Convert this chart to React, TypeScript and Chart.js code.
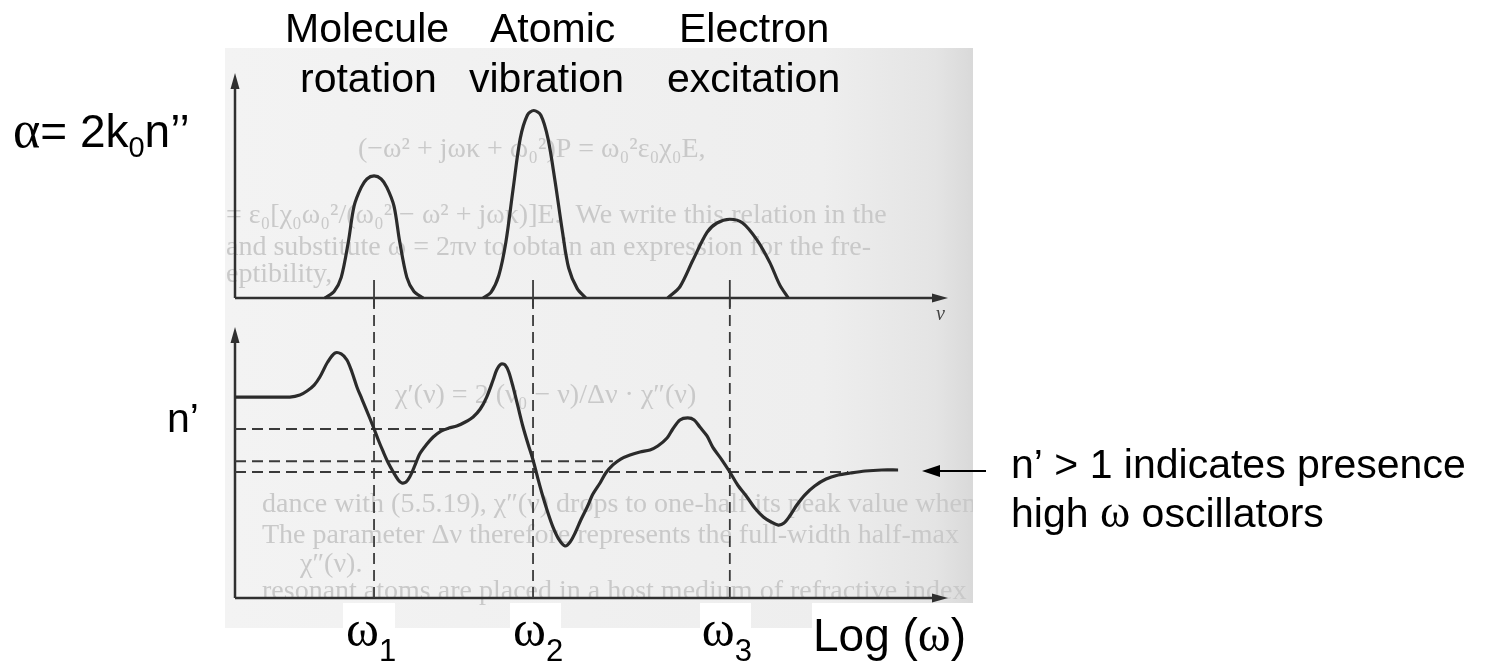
import React, { useEffect, useRef } from "react";
import { Chart, registerables } from "chart.js";

Chart.register(...registerables);

const SANS = '"Liberation Sans", Arial, Helvetica, sans-serif';
const SERIF = '"Liberation Serif", "Times New Roman", Times, serif';

// ---- x axis: log(omega), arbitrary units 0..10 ----
const X_MIN = 0;
const X_MAX = 10;

// resonance frequencies (log ω units)
const omegaPositions = [1.95, 4.18, 6.94];
const omegaSubscripts = ["1", "2", "3"];

// ---- top panel: absorption α = 2k0 n'' (relative units) ----
const ALPHA_MIN = -1.6;
const ALPHA_MAX = 1.2;
const alphaAxisTop = 1.2;
const omegaTickTop = 0.096;

const rotationX = [1.26, 1.39, 1.49, 1.59, 1.67, 1.77, 1.85, 1.95, 2.05, 2.13, 2.23, 2.31, 2.41, 2.51, 2.64];
const rotationAlpha = [0, 0.035, 0.11, 0.3, 0.49, 0.59, 0.635, 0.651, 0.635, 0.59, 0.49, 0.3, 0.11, 0.035, 0];

const vibrationX = [3.48, 3.59, 3.7, 3.8, 3.9, 4.0, 4.1, 4.19, 4.29, 4.39, 4.49, 4.59, 4.68, 4.8, 4.92];
const vibrationAlpha = [0, 0.03, 0.12, 0.3, 0.58, 0.85, 0.975, 1.0, 0.975, 0.85, 0.62, 0.36, 0.16, 0.05, 0];

const excitationX = [6.07, 6.24, 6.42, 6.62, 6.76, 6.94, 7.12, 7.32, 7.5, 7.64, 7.76];
const excitationAlpha = [0, 0.06, 0.2, 0.35, 0.4, 0.42, 0.4, 0.31, 0.19, 0.07, 0];

// ---- bottom panel: refractive index n' ----
const N_MIN = 0;
const N_MAX = 4.1667;
const nAxisTop = 2.15;
const omegaLineTop = 2.381;

const indexX = [
  0.0, 0.38, 0.77, 0.91, 1.01, 1.11, 1.19, 1.3, 1.4, 1.49,
  1.57, 1.64, 1.71, 1.78, 1.85, 1.94, 2.01, 2.08, 2.15, 2.22,
  2.29, 2.34, 2.4, 2.45, 2.52, 2.59, 2.68, 2.78, 2.89, 3.0,
  3.11, 3.23, 3.34, 3.44, 3.53, 3.62, 3.67, 3.73, 3.79, 3.84,
  3.9, 3.97, 4.04, 4.11, 4.18, 4.25, 4.32, 4.39, 4.46, 4.54,
  4.63, 4.7, 4.77, 4.85, 4.94, 5.02, 5.12, 5.2, 5.3, 5.41,
  5.54, 5.68, 5.82, 5.93, 6.06, 6.14, 6.24, 6.35, 6.44, 6.52,
  6.62, 6.7, 6.83, 6.94, 7.05, 7.18, 7.29, 7.41, 7.52, 7.62,
  7.7, 7.78, 7.88, 7.99, 8.13, 8.29, 8.46, 8.63, 8.84, 9.07,
  9.3,
];
const indexN = [
  1.595, 1.595, 1.595, 1.611, 1.643, 1.69, 1.754, 1.873, 1.944, 1.937,
  1.889, 1.794, 1.675, 1.579, 1.484, 1.357, 1.254, 1.159, 1.071, 1.0,
  0.937, 0.913, 0.921, 0.96, 1.048, 1.143, 1.214, 1.278, 1.325, 1.349,
  1.365, 1.397, 1.437, 1.5, 1.595, 1.73, 1.81, 1.857, 1.849, 1.794,
  1.675, 1.516, 1.357, 1.222, 1.095, 0.944, 0.802, 0.675, 0.563, 0.468,
  0.413, 0.444, 0.516, 0.619, 0.722, 0.825, 0.913, 0.992, 1.056, 1.103,
  1.135, 1.159, 1.175, 1.206, 1.27, 1.341, 1.413, 1.429, 1.413, 1.357,
  1.286, 1.198, 1.095, 1.0, 0.897, 0.802, 0.714, 0.643, 0.603, 0.579,
  0.595, 0.651, 0.738, 0.817, 0.889, 0.944, 0.976, 0.992, 1.008, 1.016,
  1.016,
];

// dashed plateau levels of n' and where each dashed line ends
const levelN = [1.341, 1.085, 1.0];
const levelEndX = [3.0, 5.3, 8.6];

// faint scanned textbook lines behind the figure
const scanLines = [
  "(−ω² + jωκ + ω₀²)P = ω₀²ε₀χ₀E,",
  "= ε₀[χ₀ω₀²/(ω₀² − ω² + jωκ)]E.  We write this relation in the",
  "and substitute ω = 2πν to obtain an expression for the fre-",
  "eptibility,",
  "χ′(ν) = 2 (ν₀ − ν)/Δν · χ″(ν)",
  "dance with (5.5.19), χ″(ν) drops to one-half its peak value when",
  "The parameter Δν therefore represents the full-width half-max",
  "χ″(ν).",
  "resonant atoms are placed in a host medium of refractive index",
];

const zip = (xs: number[], ys: number[]) => xs.map((x, i) => ({ x, y: ys[i] }));

function arrowLine(ctx: CanvasRenderingContext2D, x1: number, y1: number, x2: number, y2: number, len = 16, half = 4.5) {
  const ang = Math.atan2(y2 - y1, x2 - x1);
  const bx = x2 - Math.cos(ang) * (len - 2);
  const by = y2 - Math.sin(ang) * (len - 2);
  ctx.beginPath();
  ctx.moveTo(x1, y1);
  ctx.lineTo(bx, by);
  ctx.stroke();
  ctx.beginPath();
  ctx.moveTo(x2, y2);
  ctx.lineTo(x2 - Math.cos(ang) * len - Math.sin(ang) * half, y2 - Math.sin(ang) * len + Math.cos(ang) * half);
  ctx.lineTo(x2 - Math.cos(ang) * len + Math.sin(ang) * half, y2 - Math.sin(ang) * len - Math.cos(ang) * half);
  ctx.closePath();
  ctx.fill();
}

type Seg = { t: string; font: string; dy?: number };
function drawRun(ctx: CanvasRenderingContext2D, x: number, y: number, segs: Seg[]) {
  let cx = x;
  for (const s of segs) {
    ctx.font = s.font;
    ctx.fillText(s.t, cx, y + (s.dy || 0));
    cx += ctx.measureText(s.t).width;
  }
}

export default function App() {
  const ref = useRef<HTMLCanvasElement>(null);

  useEffect(() => {
    const canvas = ref.current;
    if (!canvas) return;

    const backgroundPlugin = {
      id: "scanBackground",
      beforeDraw(chart: any) {
        const ctx: CanvasRenderingContext2D = chart.ctx;
        ctx.save();
        ctx.fillStyle = "#ffffff";
        ctx.fillRect(0, 0, chart.width, chart.height);
        const g = ctx.createLinearGradient(225, 0, 973, 0);
        g.addColorStop(0, "#f3f3f3");
        g.addColorStop(0.8, "#eeeeee");
        g.addColorStop(0.95, "#e4e4e4");
        g.addColorStop(1, "#d9d9d9");
        ctx.fillStyle = g;
        ctx.fillRect(225, 48, 748, 580);
        ctx.beginPath();
        ctx.rect(225, 48, 748, 580);
        ctx.clip();
        ctx.fillStyle = "#c9c9c9";
        ctx.filter = "blur(0.6px)";
        ctx.font = `28px ${SERIF}`;
        const pos: [number, number][] = [
          [358, 157], [226, 223], [226, 255], [226, 282], [395, 403],
          [262, 512], [262, 543], [300, 572], [262, 599],
        ];
        scanLines.forEach((t, i) => ctx.fillText(t, pos[i][0], pos[i][1]));
        ctx.restore();
        ctx.save();
        ctx.fillStyle = "#ffffff";
        const boxes: [number, number][] = [[343, 395], [510, 561], [700, 751], [812, 973]];
        for (const [a, b] of boxes) ctx.fillRect(a, 603, b - a, 61);
        ctx.restore();
      },
    };

    const axesPlugin = {
      id: "arrowAxes",
      beforeDatasetsDraw(chart: any) {
        const ctx: CanvasRenderingContext2D = chart.ctx;
        const xs = chart.scales.x;
        const ya = chart.scales.y;
        const yn = chart.scales.yN;
        const x0 = xs.getPixelForValue(X_MIN);
        const x1 = xs.getPixelForValue(X_MAX);
        ctx.save();
        ctx.strokeStyle = "#303030";
        ctx.fillStyle = "#303030";
        ctx.lineWidth = 2.5;
        const ya0 = ya.getPixelForValue(0);
        const yn0 = yn.getPixelForValue(0);
        arrowLine(ctx, x0, ya0, x0, ya.getPixelForValue(alphaAxisTop));
        arrowLine(ctx, x0, ya0, x1, ya0);
        arrowLine(ctx, x0, yn0, x0, yn.getPixelForValue(nAxisTop));
        arrowLine(ctx, x0, yn0, x1, yn0);
        ctx.fillStyle = "#444";
        ctx.font = `italic 20px ${SERIF}`;
        ctx.fillText("ν", x1 - 12, ya0 + 22);
        ctx.restore();
      },
    };

    const labelsPlugin = {
      id: "labels",
      afterDraw(chart: any) {
        const ctx: CanvasRenderingContext2D = chart.ctx;
        ctx.save();
        ctx.fillStyle = "#000";
        ctx.textBaseline = "alphabetic";
        const f = `41px ${SANS}`;
        ctx.font = f;
        ctx.fillText("Molecule", 285, 42);
        ctx.fillText("Atomic", 490, 42);
        ctx.fillText("Electron", 679, 42);
        ctx.fillText("rotation", 300, 92);
        ctx.fillText("vibration", 469, 92);
        ctx.fillText("excitation", 667, 92);

        drawRun(ctx, 13, 147, [
          { t: "α", font: `52px ${SERIF}` },
          { t: "= 2k", font: `46px ${SANS}` },
          { t: "0", font: `29px ${SANS}`, dy: 10 },
          { t: "n’’", font: `46px ${SANS}` },
        ]);
        ctx.font = f;
        ctx.fillText("n’", 167, 432);

        // arrow pointing at the high-frequency plateau
        ctx.strokeStyle = "#000";
        ctx.lineWidth = 2;
        arrowLine(ctx, 986, 471, 922, 471, 18, 6);

        ctx.fillStyle = "#000";
        ctx.font = f;
        ctx.fillText("n’ > 1 indicates presence", 1011, 478);
        drawRun(ctx, 1011, 527, [
          { t: "high ", font: f },
          { t: "ω", font: `46px ${SERIF}` },
          { t: " oscillators", font: f },
        ]);

        // omega labels under bottom axis
        const xs = chart.scales.x;
        const offs = [-28, -20, -28];
        omegaPositions.forEach((w, i) => {
          const px = xs.getPixelForValue(w) + offs[i];
          drawRun(ctx, px, 646, [
            { t: "ω", font: `50px ${SERIF}` },
            { t: omegaSubscripts[i], font: `31px ${SANS}`, dy: 15 },
          ]);
        });
        drawRun(ctx, 813, 651, [
          { t: "Log (", font: `46px ${SANS}` },
          { t: "ω", font: `50px ${SERIF}` },
          { t: ")", font: `46px ${SANS}` },
        ]);
        ctx.restore();
      },
    };

    const curve = {
      borderColor: "#2b2b2b",
      borderWidth: 3.2,
      showLine: true,
      tension: 0.3,
      pointRadius: 0,
      pointHoverRadius: 0,
      clip: false as any,
    };
    const dashed = {
      borderColor: "#3a3a3a",
      borderWidth: 2,
      borderDash: [11, 6],
      showLine: true,
      tension: 0,
      pointRadius: 0,
      pointHoverRadius: 0,
      clip: false as any,
    };

    const datasets: any[] = [
      { ...curve, label: "Molecule rotation", yAxisID: "y", data: zip(rotationX, rotationAlpha) },
      { ...curve, label: "Atomic vibration", yAxisID: "y", data: zip(vibrationX, vibrationAlpha) },
      { ...curve, label: "Electron excitation", yAxisID: "y", data: zip(excitationX, excitationAlpha) },
      { ...curve, label: "n'", yAxisID: "yN", data: zip(indexX, indexN) },
      ...levelN.map((lv, i) => ({
        ...dashed,
        label: `level ${i + 1}`,
        yAxisID: "yN",
        data: [{ x: X_MIN, y: lv }, { x: levelEndX[i], y: lv }],
      })),
      ...omegaPositions.map((w, i) => ({
        ...dashed,
        borderWidth: 1.8,
        label: `omega ${i + 1}`,
        yAxisID: "yN",
        data: [{ x: w, y: 0 }, { x: w, y: omegaLineTop }],
      })),
      ...omegaPositions.map((w, i) => ({
        ...dashed,
        borderDash: [],
        borderWidth: 1.8,
        label: `omega tick ${i + 1}`,
        yAxisID: "y",
        data: [{ x: w, y: -0.05 }, { x: w, y: omegaTickTop }],
      })),
    ];

    const chart = new Chart(canvas, {
      type: "scatter",
      data: { datasets },
      options: {
        responsive: false,
        animation: false,
        events: [],
        layout: { padding: { left: 235, right: 549, top: 73, bottom: 66 } },
        plugins: { legend: { display: false }, tooltip: { enabled: false } },
        scales: {
          x: { type: "linear", min: X_MIN, max: X_MAX, display: false },
          y: { type: "linear", min: ALPHA_MIN, max: ALPHA_MAX, display: false },
          yN: { type: "linear", min: N_MIN, max: N_MAX, display: false },
        },
      },
      plugins: [backgroundPlugin, axesPlugin, labelsPlugin],
    });

    return () => chart.destroy();
  }, []);

  return (
    <div style={{ position: "absolute", left: 0, top: 0, width: 1497, height: 664, background: "#fff" }}>
      <canvas ref={ref} width={1497} height={664} style={{ display: "block" }} />
    </div>
  );
}
